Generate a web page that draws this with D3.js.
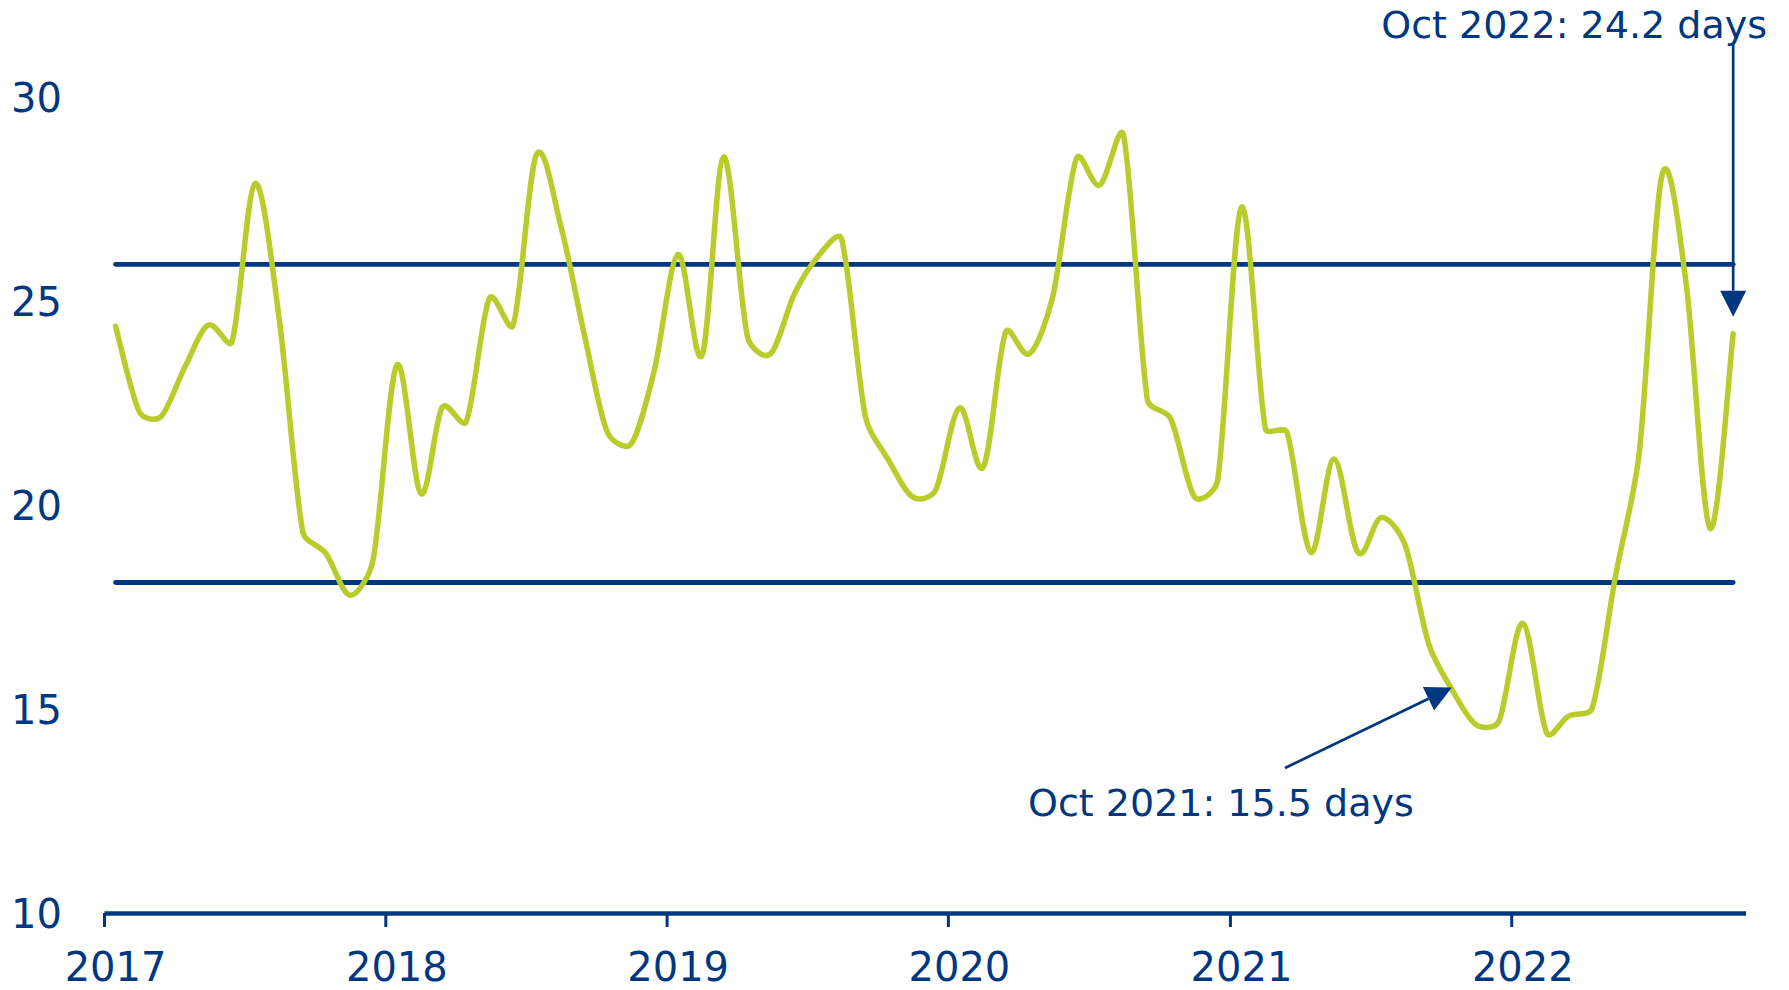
<!DOCTYPE html>
<html>
<head>
<meta charset="utf-8">
<script src="https://cdn.jsdelivr.net/npm/d3@7"></script>
<style>
    body { margin: 0; background: #fff; }
    svg { display: block; font-family: "DejaVu Sans", Verdana, sans-serif; }
</style>
</head>
<body>
<svg id="drawing_region"></svg>
<script>
// monthly values, Jan 2017 .. Oct 2022 (days)
const values = [
    24.38, 22.28, 22.17, 23.38, 24.41, 24.0, 27.88, 24.61, 19.34, 18.81, 17.79, 18.64,
    23.43, 20.28, 22.40, 22.04, 25.06, 24.41, 28.58, 26.9, 24.2, 21.79, 21.5, 23.3,
    26.14, 23.67, 28.53, 24.12, 23.71, 25.18, 26.08, 26.52, 22.16, 21.1, 20.2, 20.36,
    22.38, 20.93, 24.24, 23.71, 25.1, 28.5, 27.84, 29.05, 22.57, 22.12, 20.2, 20.6,
    27.3, 21.87, 21.78, 18.84, 21.13, 18.84, 19.69, 19.03, 16.59, 15.48, 14.62, 14.7,
    17.1, 14.41, 14.82, 15.02, 18.22, 21.26, 28.12, 25.42, 19.43, 24.2
];
const months = d3.utcMonth.range(new Date(Date.UTC(2017, 0, 1)), new Date(Date.UTC(2022, 10, 1)));
const years = [2017, 2018, 2019, 2020, 2021, 2022];
const yTicks = [10, 15, 20, 25, 30];
const bands = [25.9, 18.1];   // upper / lower reference lines
const notes = [
    { label: 'Oct 2021: 15.5 days', month: 57 },
    { label: 'Oct 2022: 24.2 days', month: 69 }
];

const navy = '#003781';
const green = '#b8cd2b';

// smoothed line like a spreadsheet: catmull-rom tangents,
// control arms clamped to the neighbouring segment length
class SmoothClamped {
    constructor(context) { this._context = context; }
    areaStart() {}
    areaEnd() {}
    lineStart() { this._pts = []; }
    point(x, y) { this._pts.push([+x, +y]); }
    lineEnd() {
        const p = this._pts, c = this._context, n = p.length;
        if (!n) return;
        c.moveTo(p[0][0], p[0][1]);
        const dist = (a, b) => Math.hypot(b[0] - a[0], b[1] - a[1]);
        const tan = i => {
            const a = p[Math.max(i - 1, 0)], b = p[Math.min(i + 1, n - 1)];
            const tx = b[0] - a[0], ty = b[1] - a[1];
            const len = Math.hypot(tx, ty) || 1;
            return { ux: tx / len, uy: ty / len, arm: len / 6 };
        };
        for (let i = 0; i < n - 1; i++) {
            const a = p[i], b = p[i + 1];
            const d = dist(a, b);
            const ta = tan(i), tb = tan(i + 1);
            const la = Math.min(ta.arm, d * 0.35);
            const lb = Math.min(tb.arm, d * 0.35);
            c.bezierCurveTo(
                a[0] + ta.ux * la, a[1] + ta.uy * la,
                b[0] - tb.ux * lb, b[1] - tb.uy * lb,
                b[0], b[1]);
        }
    }
}

const svg = d3.select('#drawing_region')
    .attr('width', 1789)
    .attr('height', 990);

const xscale = d3.scaleUtc()
    .domain([new Date(Date.UTC(2017, 0, 1)), new Date(Date.UTC(2022, 10, 1))])
    .range([104, 1745.5]);

const yscale = d3.scaleLinear()
    .domain([10, 30])
    .range([913, 97]);

// mid-month position of a category
const mid = d => d3.utcDay.offset(d, 15);

const data = months.map((m, i) => ({ date: mid(m), value: values[i] }));

// y tick labels (no axis line)
svg.append('g')
    .selectAll('text')
    .data(yTicks)
    .join('text')
    .attr('x', 62)
    .attr('y', d => yscale(d) + 14.5)
    .attr('text-anchor', 'end')
    .attr('fill', navy)
    .style('font-size', '40px')
    .text(d => d);

// x axis
const xaxis = d3.axisBottom(xscale)
    .tickValues(years.map(y => new Date(Date.UTC(y, 0, 1))))
    .tickSizeInner(14)
    .tickSizeOuter(0)
    .tickFormat('');

const xaxis_group = svg.append('g')
    .attr('transform', 'translate(0, 913)')
    .call(xaxis);
xaxis_group.select('.domain')
    .attr('stroke', navy)
    .attr('stroke-width', 4.5);
xaxis_group.selectAll('.tick line')
    .attr('stroke', navy)
    .attr('stroke-width', 3);

svg.append('g')
    .selectAll('text')
    .data(years)
    .join('text')
    .attr('x', d => xscale(mid(new Date(Date.UTC(d, 0, 1)))))
    .attr('y', 981)
    .attr('text-anchor', 'middle')
    .attr('fill', navy)
    .style('font-size', '40px')
    .text(d => d);

// reference lines
const x0 = xscale(data[0].date);
const x1 = xscale(data[data.length - 1].date);
svg.append('g')
    .selectAll('line')
    .data(bands)
    .join('line')
    .attr('x1', x0)
    .attr('x2', x1)
    .attr('y1', d => yscale(d))
    .attr('y2', d => yscale(d))
    .attr('stroke', navy)
    .attr('stroke-width', 4.8)
    .attr('stroke-linecap', 'round');

// series
const line = d3.line()
    .x(d => xscale(d.date))
    .y(d => yscale(d.value))
    .curve(ctx => new SmoothClamped(ctx));

svg.append('path')
    .datum(data)
    .attr('d', line)
    .attr('fill', 'none')
    .attr('stroke', green)
    .attr('stroke-width', 5.5)
    .attr('stroke-linecap', 'round')
    .attr('stroke-linejoin', 'round');

// arrow helper
function arrow(tail, tip) {
    const dx = tip[0] - tail[0], dy = tip[1] - tail[1];
    const len = Math.hypot(dx, dy);
    const ux = dx / len, uy = dy / len;
    const hl = 26, hw = 13;
    const bx = tip[0] - ux * hl, by = tip[1] - uy * hl;
    svg.append('line')
        .attr('x1', tail[0]).attr('y1', tail[1])
        .attr('x2', bx).attr('y2', by)
        .attr('stroke', navy)
        .attr('stroke-width', 2.7);
    svg.append('polygon')
        .attr('points', [
            tip,
            [bx + uy * hw, by - ux * hw],
            [bx - uy * hw, by + ux * hw]
        ].map(p => p.join(',')).join(' '))
        .attr('fill', navy);
}

// Oct 2021 note
const n1 = data[notes[0].month];
arrow([1285, 768], [xscale(n1.date), yscale(n1.value) - 2]);
svg.append('text')
    .attr('x', 1028)
    .attr('y', 815.5)
    .attr('fill', navy)
    .style('font-size', '38px')
    .text(notes[0].label);

// Oct 2022 note
const n2 = data[notes[1].month];
arrow([xscale(n2.date), 43], [xscale(n2.date), yscale(n2.value) - 17]);
svg.append('text')
    .attr('x', 1767)
    .attr('y', 37.5)
    .attr('text-anchor', 'end')
    .attr('fill', navy)
    .style('font-size', '38px')
    .text(notes[1].label);
</script>
</body>
</html>
